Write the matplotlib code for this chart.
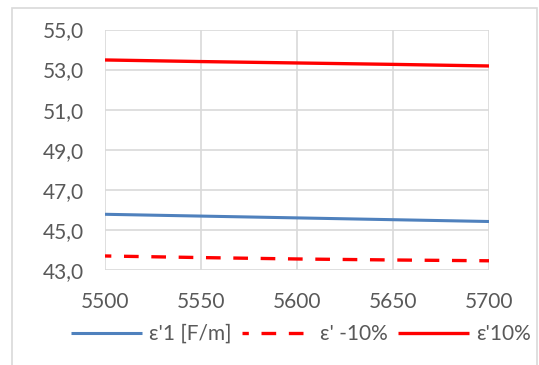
import matplotlib.pyplot as plt
from matplotlib.patches import Rectangle

freq = [5500, 5550, 5600, 5650, 5700]
eps1 = [45.78, 45.69, 45.60, 45.51, 45.42]
eps_minus10 = [43.70, 43.62, 43.55, 43.50, 43.46]
eps_plus10 = [53.48, 53.40, 53.33, 53.26, 53.18]

labels = ["ε'1 [F/m]", "ε' -10%", "ε'10%"]
yticks = [43, 45, 47, 49, 51, 53, 55]
xticks = [5500, 5550, 5600, 5650, 5700]

W, H = 539, 365
fig = plt.figure(figsize=(W / 100, H / 100), dpi=100)
plt.rcParams['font.family'] = ['Lato', 'DejaVu Sans']
txt = '#595959'
grid = '#d9d9d9'

# outer chart border (bottom runs off the picture)
fig.patches.append(Rectangle((12 / W, -0.1), (537 - 12) / W, 1.1 - 8 / H,
                             transform=fig.transFigure, fill=False,
                             edgecolor=grid, linewidth=1.2))

ax = fig.add_axes([105 / W, 1 - 270 / H, (489 - 105) / W, (270 - 29.5) / H])
ax.plot(freq, eps1, color='#4f81bd', lw=2.2, label=labels[0], solid_capstyle='butt')
ax.plot(freq, eps_minus10, color='#ff0000', lw=2.4, ls=(2.5, (4.4, 3.8)),
        label=labels[1], dash_capstyle='butt')
ax.plot(freq, eps_plus10, color='#ff0000', lw=2.4, label=labels[2], solid_capstyle='butt')

ax.set_xlim(5500, 5700)
ax.set_ylim(43, 55)
ax.set_xticks(xticks)
ax.set_yticks(yticks)
ax.set_yticklabels([f'{v:.1f}'.replace('.', ',') for v in yticks])
ax.grid(True, color=grid, lw=1.2)
ax.set_axisbelow(True)
for s in ax.spines.values():
    s.set_visible(False)
ax.tick_params(length=0, labelsize=15, colors=txt)
ax.tick_params(axis='x', pad=16)
ax.tick_params(axis='y', pad=15)

leg = fig.legend(loc='center', bbox_to_anchor=(301 / W, 1 - 334 / H), ncol=3,
                 frameon=False, fontsize=15, handlelength=3.4, columnspacing=0.5,
                 handletextpad=0.35, borderaxespad=0)
for t in leg.get_texts():
    t.set_color(txt)

fig.savefig('out.png', dpi=100)
